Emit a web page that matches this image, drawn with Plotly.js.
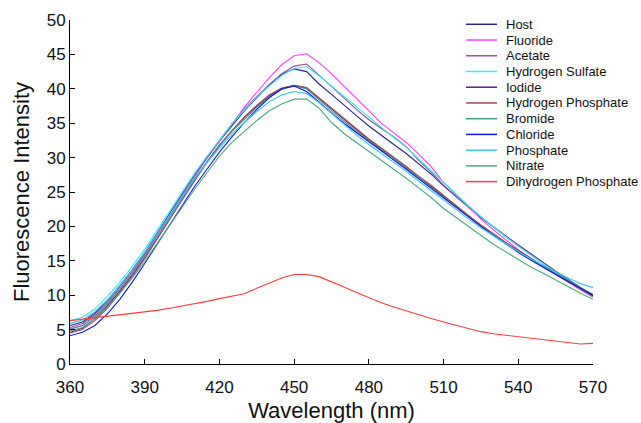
<!DOCTYPE html>
<html>
<head>
<meta charset="utf-8">
<script src="https://cdn.plot.ly/plotly-3.0.1.min.js"></script>
<style>html,body{margin:0;padding:0;background:#fff;}#chart{width:641px;height:423px;}</style>
</head>
<body>
<div id="chart"></div>
<script>
// Wavelength (nm)
const wavelength = [360,365,370,375,380,385,390,395,400,405,410,415,420,425,430,435,440,445,450,455,460,465,470,475,480,485,490,495,500,505,510,515,520,525,530,535,540,545,550,555,560,565,570];

const host = [5.6,6.1,7.4,9.2,11.4,13.7,16.2,19.0,21.9,24.7,27.5,30.0,32.4,34.6,36.8,38.7,40.6,42.1,42.9,42.5,40.7,39.2,37.6,36.1,34.6,33.2,31.9,30.6,29.1,27.6,25.9,24.3,22.8,21.3,19.9,18.6,17.3,16.0,14.8,13.5,12.3,11.1,10.1];
const fluoride = [5.1,5.6,6.9,8.7,10.9,13.2,15.8,18.6,21.5,24.4,27.2,29.9,32.4,34.9,37.3,39.5,41.6,43.5,44.8,45.1,43.8,42.2,40.4,38.6,36.8,35.0,33.6,32.2,30.5,28.7,26.4,24.6,22.9,21.1,19.5,18.0,16.6,15.4,14.2,13.0,11.9,10.8,9.7];
const acetate = [5.3,5.9,7.2,9.0,11.2,13.5,16.0,18.8,21.7,24.6,27.4,30.0,32.5,34.8,37.0,38.9,40.6,42.2,43.3,43.6,42.0,40.3,38.6,37.0,35.5,34.3,33.0,31.6,29.6,27.9,26.0,24.4,22.9,21.3,19.9,18.5,17.2,15.9,14.7,13.4,12.2,11.0,9.9];
const hydrogenSulfate = [6.3,6.8,8.0,9.8,11.9,14.2,16.7,19.4,22.2,25.0,27.7,30.2,32.6,34.9,36.9,38.8,40.4,41.9,43.0,43.2,41.9,40.4,38.8,37.3,35.8,34.3,32.9,31.5,29.8,28.1,26.4,24.6,23.0,21.4,19.9,18.5,17.1,15.8,14.6,13.3,12.1,10.9,9.8];
const iodide = [4.6,5.2,6.6,8.4,10.6,12.9,15.5,18.3,21.2,24.0,26.8,29.4,31.8,33.9,35.8,37.5,39.0,40.0,40.5,40.1,38.6,37.1,35.5,34.0,32.6,31.2,30.0,28.6,27.1,25.8,24.4,22.9,21.5,20.1,18.9,17.6,16.5,15.3,14.2,13.1,12.1,11.0,9.9];
const hydrogenPhosphate = [4.5,5.0,6.3,8.1,10.3,12.7,15.3,18.1,21.0,23.9,26.7,29.3,31.7,33.9,35.9,37.6,39.1,40.1,40.5,40.2,38.7,37.2,35.6,34.1,32.7,31.4,30.1,28.7,27.3,26.0,24.5,23.0,21.6,20.2,18.9,17.6,16.4,15.2,14.1,13.0,12.0,10.9,9.8];
const bromide = [5.0,5.6,7.0,8.7,10.9,13.1,15.6,18.4,21.3,24.0,26.8,29.3,31.7,33.8,35.6,37.3,38.8,39.9,40.4,40.0,38.4,36.9,35.3,33.8,32.5,31.1,29.9,28.5,27.0,25.7,24.3,22.8,21.4,20.0,18.8,17.5,16.4,15.3,14.2,13.2,12.2,11.1,10.0];
const chloride = [4.1,4.6,5.6,7.3,9.4,11.9,14.6,17.4,20.3,23.1,25.8,28.3,30.8,33.0,35.1,37.0,38.7,40.0,40.4,39.6,38.0,36.5,35.0,33.6,32.3,31.0,29.7,28.3,26.9,25.5,24.1,22.7,21.3,20.0,18.7,17.4,16.2,15.1,14.0,13.0,12.0,11.0,10.0];
const phosphate = [5.9,6.4,7.6,9.3,11.4,13.7,16.2,18.9,21.7,24.4,27.0,29.3,31.4,33.4,35.1,36.7,38.1,39.1,39.6,39.3,38.0,36.4,34.8,33.3,31.9,30.6,29.4,28.0,26.6,25.2,23.8,22.4,21.1,19.8,18.6,17.4,16.3,15.3,14.3,13.4,12.5,11.7,11.1];
const nitrate = [4.8,5.3,6.6,8.2,10.3,12.5,14.9,17.5,20.2,22.8,25.4,27.8,30.2,32.2,33.8,35.4,36.8,37.8,38.5,38.5,37.2,35.1,33.5,32.2,31.0,29.6,28.3,27.0,25.6,24.2,22.6,21.3,19.9,18.6,17.4,16.3,15.2,14.1,13.2,12.2,11.3,10.3,9.4];
const dihydrogenPhosphate = [6.3,6.5,6.7,6.9,7.1,7.3,7.6,7.8,8.1,8.4,8.7,9.1,9.5,9.9,10.2,11.0,11.8,12.5,13.0,13.0,12.7,12.0,11.2,10.4,9.6,8.9,8.3,7.7,7.2,6.6,6.1,5.6,5.1,4.7,4.4,4.2,4.0,3.8,3.5,3.3,3.1,2.9,3.0];

const seriesNames = ["Host","Fluoride","Acetate","Hydrogen Sulfate","Iodide","Hydrogen Phosphate","Bromide","Chloride","Phosphate","Nitrate","Dihydrogen Phosphate"];
const seriesValues = [host,fluoride,acetate,hydrogenSulfate,iodide,hydrogenPhosphate,bromide,chloride,phosphate,nitrate,dihydrogenPhosphate];
const seriesColors = ["#232389","#ff3dff","#9b4ba5","#33eeee","#661a77","#9e4d4d","#3a9898","#1515e6","#30c8f4","#4caa80","#ff3b3b"];

const xTicks = [360,390,420,450,480,510,540,570];
const yTicks = [0,5,10,15,20,25,30,35,40,45,50];

const FONT = "Arial, 'Liberation Sans', sans-serif";
const W = 641, H = 423;
const M = {l:70, r:48, t:20, b:59};
const pw = W - M.l - M.r, ph = H - M.t - M.b;

const traces = seriesNames.map((n,i)=>({
  type:'scatter', mode:'lines', name:n,
  x: wavelength, y: seriesValues[i],
  line:{color:seriesColors[i], width:1.1},
  showlegend:false
}));

// manual legend (compact rows like the reference)
const shapes = [], annotations = [];
const legLineX0 = 466, legLineX1 = 497, legTextX = 504, legTop = 24.3, legStep = 15.73;
seriesNames.forEach((n,i)=>{
  const ypx = legTop + legStep*i;
  const yp = (H - M.b - ypx)/ph;
  shapes.push({type:'line', xref:'paper', yref:'paper',
    x0:(legLineX0-M.l)/pw, x1:(legLineX1-M.l)/pw, y0:yp, y1:yp,
    line:{color:seriesColors[i], width:1.5}});
  annotations.push({xref:'paper', yref:'paper', x:(legTextX-M.l)/pw, y:yp,
    xanchor:'left', yanchor:'middle', showarrow:false, text:n,
    font:{family:FONT, size:13, color:'#111'}});
});

const layout = {
  width:W, height:H, margin:M,
  paper_bgcolor:'#fff', plot_bgcolor:'#fff',
  showlegend:false,
  font:{family:FONT, color:'#111'},
  xaxis:{range:[360,570], tickvals:xTicks, ticktext:xTicks.map(String),
    showgrid:false, zeroline:false, showline:true, linecolor:'#000', linewidth:1,
    ticks:'inside', ticklen:5, tickcolor:'#000', tickfont:{size:17, family:FONT, color:'#111'},
    ticklabelstandoff:8,
    title:{text:'Wavelength (nm)', font:{size:22, family:FONT, color:'#111'}, standoff:6},
    automargin:false},
  yaxis:{range:[0,50], tickvals:yTicks, ticktext:yTicks.map(String),
    showgrid:false, zeroline:false, showline:true, linecolor:'#000', linewidth:1,
    ticks:'inside', ticklen:5, tickcolor:'#000', tickfont:{size:17, family:FONT, color:'#111'},
    title:{text:'Fluorescence Intensity', font:{size:22, family:FONT, color:'#111'}, standoff:10},
    automargin:false},
  shapes:shapes, annotations:annotations
};

Plotly.newPlot('chart', traces, layout, {staticPlot:true, displayModeBar:false});
</script>
</body>
</html>
